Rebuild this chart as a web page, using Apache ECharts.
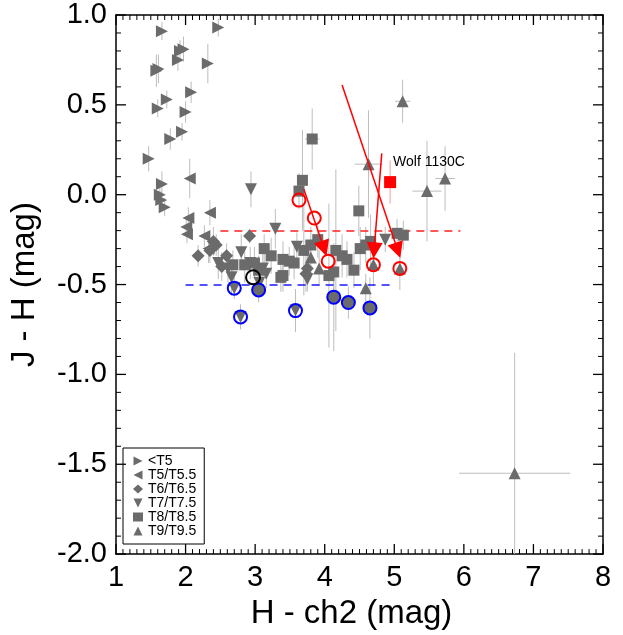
<!DOCTYPE html>
<html>
<head>
<meta charset="utf-8">
<script src="https://cdn.jsdelivr.net/npm/echarts@6/dist/echarts.min.js"></script>
<style>
  html, body { margin: 0; padding: 0; background: #fff; }
  #chart { width: 623px; height: 635px; }
</style>
</head>
<body>
<div id="chart"></div>
<script>
// rows: [H - ch2, J - H, xerr, yerr]
const earlyT = [
  [1.66, 0.91, 0.03, 0.05], [2.47, 0.93, 0.03, 0.05], [1.92, 0.80, 0.04, 0.06],
  [1.97, 0.81, 0.03, 0.07], [1.89, 0.75, 0.03, 0.06], [2.32, 0.73, 0.04, 0.11],
  [1.61, 0.70, 0.03, 0.08], [1.58, 0.69, 0.03, 0.09], [2.08, 0.57, 0.03, 0.06],
  [1.73, 0.53, 0.03, 0.05], [1.60, 0.48, 0.03, 0.05], [2.00, 0.46, 0.03, 0.06],
  [1.95, 0.35, 0.03, 0.05], [1.78, 0.31, 0.03, 0.06], [1.47, 0.20, 0.03, 0.07],
  [1.66, 0.06, 0.03, 0.07], [1.63, 0.00, 0.03, 0.05], [1.65, -0.03, 0.03, 0.05],
  [1.70, -0.07, 0.03, 0.05]
];
const t5 = [
  [2.06, 0.09, 0.03, 0.11], [2.35, -0.10, 0.04, 0.07], [2.04, -0.13, 0.03, 0.06],
  [2.01, -0.18, 0.03, 0.05], [2.02, -0.22, 0.03, 0.05], [2.27, -0.23, 0.04, 0.06],
  [2.33, -0.30, 0.04, 0.08]
];
const t6 = [
  [2.92, -0.23, 0.04, 0.04], [2.40, -0.26, 0.04, 0.08], [2.44, -0.28, 0.04, 0.06],
  [2.35, -0.31, 0.04, 0.07], [2.18, -0.34, 0.04, 0.06], [2.59, -0.34, 0.04, 0.07],
  [3.75, -0.41, 0.04, 0.08], [3.73, -0.44, 0.04, 0.10], [2.52, -0.40, 0.04, 0.08]
];
const t7 = [
  [2.94, 0.03, 0.03, 0.10], [3.29, -0.19, 0.04, 0.11], [3.60, -0.29, 0.04, 0.08],
  [2.80, -0.32, 0.04, 0.10], [2.47, -0.38, 0.04, 0.09], [2.66, -0.46, 0.04, 0.10],
  [3.11, -0.41, 0.04, 0.08], [3.16, -0.44, 0.04, 0.08], [3.06, -0.49, 0.04, 0.08],
  [3.75, -0.47, 0.04, 0.07], [4.87, -0.25, 0.04, 0.07], [2.70, -0.52, 0.04, 0.06],
  [2.79, -0.68, 0.04, 0.07], [3.58, -0.645, 0.04, 0.12], [2.93, -0.38, 0.04, 0.09],
  [2.61, -0.41, 0.04, 0.08]
];
const t8 = [
  [3.68, 0.08, 0.04, 0.28], [3.63, 0.02, 0.04, 0.10], [3.82, 0.31, 0.10, 0.17],
  [4.49, -0.09, 0.04, 0.14], [3.13, -0.30, 0.04, 0.08], [3.23, -0.34, 0.04, 0.10],
  [3.40, -0.36, 0.05, 0.10], [3.49, -0.37, 0.04, 0.08], [3.56, -0.38, 0.04, 0.09],
  [2.68, -0.39, 0.04, 0.08], [2.85, -0.39, 0.04, 0.10], [2.99, -0.38, 0.04, 0.09],
  [3.37, -0.46, 0.04, 0.08], [3.70, -0.31, 0.04, 0.25], [3.80, -0.28, 0.05, 0.10],
  [3.90, -0.25, 0.05, 0.10], [4.16, -0.31, 0.05, 0.45], [4.25, -0.34, 0.05, 0.12],
  [4.32, -0.36, 0.05, 0.10], [4.42, -0.42, 0.05, 0.10], [4.13, -0.43, 0.05, 0.12],
  [4.06, -0.45, 0.05, 0.40], [4.51, -0.30, 0.05, 0.12], [4.59, -0.28, 0.05, 0.10],
  [4.66, -0.26, 0.05, 0.15], [5.04, -0.215, 0.05, 0.08], [5.13, -0.225, 0.06, 0.08],
  [3.05, -0.42, 0.04, 0.08], [3.40, -0.45, 0.05, 0.09]
];
const t9 = [
  [5.12, 0.52, 0.11, 0.12], [4.63, 0.17, 0.20, 0.30], [5.47, 0.02, 0.21, 0.28],
  [5.73, 0.09, 0.14, 0.18], [6.73, -1.55, 0.80, 0.67], [4.59, -0.52, 0.05, 0.08],
  [3.80, -0.35, 0.04, 0.10], [3.92, -0.41, 0.04, 0.10], [4.70, -0.39, 0.05, 0.12],
  [5.08, -0.41, 0.05, 0.12]
];
const grayDisks = [[3.05, -0.53, 0.04, 0.07], [4.13, -0.57, 0.05, 0.30], [4.34, -0.60, 0.05, 0.09], [4.65, -0.63, 0.05, 0.17]];
const blueRings = [[2.70, -0.52], [2.79, -0.68], [3.58, -0.645], [3.05, -0.53], [4.13, -0.57], [4.34, -0.60], [4.65, -0.63]];
const blackRings = [[2.97, -0.46]];
const redRings = [[3.63, -0.03], [3.85, -0.13], [4.05, -0.37], [4.70, -0.39], [5.08, -0.41]];
const wolf = [[4.94, 0.07, 0, 0.12]];
const arrowFrom = [[3.70, 0.03], [4.25, 0.61], [4.82, 0.23]];
const arrowTo = [[3.99, -0.30], [5.05, -0.31], [4.71, -0.31]];
const redLevel = [-0.2, 2.5, 5.95];
const blueLevel = [-0.5, 2.0, 5.0];

const classNames = ['<T5', 'T5/T5.5', 'T6/T6.5', 'T7/T7.5', 'T8/T8.5', 'T9/T9.5'];
const classSymbols = ['triangle', 'triangle', 'diamond', 'triangle', 'rect', 'triangle'];
const classRotate = [-90, 90, 0, 180, 0, 0];
const legendIcons = [
  'path://M0,0L10,5L0,10Z', 'path://M10,0L0,5L10,10Z', 'diamond',
  'path://M0,0L10,0L5,10Z', 'rect', 'path://M5,0L10,10L0,10Z'
];

// axis ranges, major step, minor ticks per major step
const xRange = [1, 8], xStep = 1, xMinor = 10;
const yRange = [-2, 1], yStep = 0.5, yMinor = 5;

const GRAY = '#6b6b6b';
const FONT = 'Liberation Sans, Arial, sans-serif';

function xy(rows) { return rows.map(r => [r[0], r[1]]); }

// tick rows: [value, 0 = x / 1 = y, major?]
const tickRows = [];
for (let i = 0; i <= (xRange[1] - xRange[0]) / xStep * xMinor; i++) {
  tickRows.push([xRange[0] + i * xStep / xMinor, 0, i % xMinor === 0 ? 1 : 0]);
}
for (let i = 0; i <= (yRange[1] - yRange[0]) / yStep * yMinor; i++) {
  tickRows.push([yRange[0] + i * yStep / yMinor, 1, i % yMinor === 0 ? 1 : 0]);
}

function tickRender(params, api) {
  const v = api.value(0), dir = api.value(1), major = api.value(2);
  const len = major ? 10 : 5;
  const style = { stroke: '#000', lineWidth: major ? 1.3 : 1 };
  let a, b;
  if (dir === 0) {
    a = api.coord([v, yRange[0]]); b = api.coord([v, yRange[1]]);
    return { type: 'group', children: [
      { type: 'line', shape: { x1: a[0], y1: a[1], x2: a[0], y2: a[1] - len }, style: style },
      { type: 'line', shape: { x1: b[0], y1: b[1], x2: b[0], y2: b[1] + len }, style: style }
    ] };
  }
  a = api.coord([xRange[0], v]); b = api.coord([xRange[1], v]);
  return { type: 'group', children: [
    { type: 'line', shape: { x1: a[0], y1: a[1], x2: a[0] + len, y2: a[1] }, style: style },
    { type: 'line', shape: { x1: b[0], y1: b[1], x2: b[0] - len, y2: b[1] }, style: style }
  ] };
}

function errRender(color) {
  return function (params, api) {
    const x = api.value(0), y = api.value(1), ex = api.value(2), ey = api.value(3);
    const kids = [];
    const style = { stroke: color, lineWidth: 1 };
    if (ex > 0) {
      const a = api.coord([x - ex, y]), b = api.coord([x + ex, y]);
      kids.push({ type: 'line', shape: { x1: a[0], y1: a[1], x2: b[0], y2: b[1] }, style: style });
    }
    if (ey > 0) {
      const c = api.coord([x, y - ey]), d = api.coord([x, y + ey]);
      kids.push({ type: 'line', shape: { x1: c[0], y1: c[1], x2: d[0], y2: d[1] }, style: style });
    }
    return { type: 'group', children: kids };
  };
}

function axisCommon(extra) {
  return Object.assign({
    type: 'value',
    splitLine: { show: false },
    axisLine: { show: true, onZero: false, lineStyle: { color: '#000', width: 1.5 } },
    axisTick: { show: false },
    minorTick: { show: false },
    axisLabel: { show: false }
  }, extra);
}

const classSeries = [earlyT, t5, t6, t7, t8, t9].map((rows, i) => ({
  type: 'scatter', name: classNames[i], z: 3,
  symbol: classSymbols[i], symbolRotate: classRotate[i],
  symbolSize: classSymbols[i] === 'rect' ? 11 : (classSymbols[i] === 'diamond' ? 13 : 12),
  itemStyle: { color: GRAY, opacity: 1 },
  data: xy(rows)
}));

const myChart = echarts.init(document.getElementById('chart'));
myChart.setOption({
  animation: false,
  grid: { left: 114, right: 20, top: 15, bottom: 77 },
  legend: {
    orient: 'vertical',
    left: 123, top: 448,
    padding: [6, 8, 6, 10],
    itemWidth: 10, itemHeight: 9, itemGap: 0,
    borderColor: '#000', borderWidth: 1,
    textStyle: { fontSize: 14, color: '#000', fontFamily: FONT },
    data: classNames.map((n, i) => ({ name: n, icon: legendIcons[i], itemStyle: { color: GRAY } }))
  },
  xAxis: [
    axisCommon({
      min: xRange[0], max: xRange[1], interval: xStep, position: 'bottom',
      axisLabel: { show: true, color: '#000', fontSize: 29, fontFamily: FONT, margin: 9 },
      name: 'H - ch2 (mag)', nameLocation: 'middle', nameGap: 33,
      nameTextStyle: { fontSize: 33, color: '#000', fontFamily: FONT, padding: [0, 16, 0, 0] }
    }),
    axisCommon({ min: xRange[0], max: xRange[1], interval: xStep, position: 'top' })
  ],
  yAxis: [
    axisCommon({
      min: yRange[0], max: yRange[1], interval: yStep, position: 'left',
      axisLabel: { show: true, color: '#000', fontSize: 29, fontFamily: FONT, margin: 9, formatter: v => v.toFixed(1) },
      name: 'J - H (mag)', nameLocation: 'middle', nameGap: 75, nameRotate: 90,
      nameTextStyle: { fontSize: 33, color: '#000', fontFamily: FONT }
    }),
    axisCommon({ min: yRange[0], max: yRange[1], interval: yStep, position: 'right' })
  ],
  series: [
    {
      type: 'custom', name: 'ticks', clip: false, z: 10, silent: true,
      renderItem: tickRender,
      data: tickRows
    },
    {
      type: 'custom', name: 'errors', clip: true, z: 1,
      renderItem: errRender('#bdbdbd'),
      encode: { x: 0, y: 1 },
      data: [...earlyT, ...t5, ...t6, ...t7, ...t8, ...t9, ...grayDisks]
    },
    {
      type: 'custom', name: 'wolfErr', clip: true, z: 1,
      renderItem: errRender('#ff9a9a'),
      encode: { x: 0, y: 1 },
      data: wolf
    },
    {
      type: 'lines', coordinateSystem: 'cartesian2d', z: 2, silent: true,
      lineStyle: { color: '#ff2020', width: 1.5, type: [8, 6], opacity: 1 },
      symbol: ['none', 'none'],
      data: [{ coords: [[redLevel[1], redLevel[0]], [redLevel[2], redLevel[0]]] }]
    },
    {
      type: 'lines', coordinateSystem: 'cartesian2d', z: 2, silent: true,
      lineStyle: { color: '#1a1aff', width: 1.5, type: [8, 6], opacity: 1 },
      symbol: ['none', 'none'],
      data: [{ coords: [[blueLevel[1], blueLevel[0]], [blueLevel[2], blueLevel[0]]] }]
    },
    ...classSeries,
    { type: 'scatter', name: 'disks', z: 4, symbol: 'circle', symbolSize: 12, itemStyle: { color: GRAY, opacity: 1 }, data: xy(grayDisks) },
    { type: 'scatter', name: 'blue', z: 5, symbol: 'circle', symbolSize: 13, itemStyle: { color: 'rgba(0,0,0,0)', borderColor: '#0000ff', borderWidth: 2, opacity: 1 }, data: blueRings },
    { type: 'scatter', name: 'black', z: 5, symbol: 'circle', symbolSize: 14, itemStyle: { color: 'rgba(0,0,0,0)', borderColor: '#000', borderWidth: 2, opacity: 1 }, data: blackRings },
    { type: 'scatter', name: 'red', z: 5, symbol: 'circle', symbolSize: 13, itemStyle: { color: 'rgba(0,0,0,0)', borderColor: '#ff0000', borderWidth: 2, opacity: 1 }, data: redRings },
    {
      type: 'scatter', name: 'Wolf 1130C', z: 5, symbol: 'rect', symbolSize: 12,
      itemStyle: { color: '#ff0000', opacity: 1 },
      label: { show: true, formatter: 'Wolf 1130C', position: [9, -14], verticalAlign: 'middle', align: 'left', fontSize: 14, color: '#000', fontFamily: FONT },
      data: xy(wolf)
    },
    {
      type: 'lines', coordinateSystem: 'cartesian2d', z: 6, silent: true,
      lineStyle: { color: '#ff0000', width: 1.5, opacity: 1 },
      symbol: ['none', 'triangle'], symbolSize: 16,
      itemStyle: { color: '#ff0000' },
      data: arrowFrom.map((p, i) => ({ coords: [p, arrowTo[i]] }))
    }
  ]
});
</script>
</body>
</html>
